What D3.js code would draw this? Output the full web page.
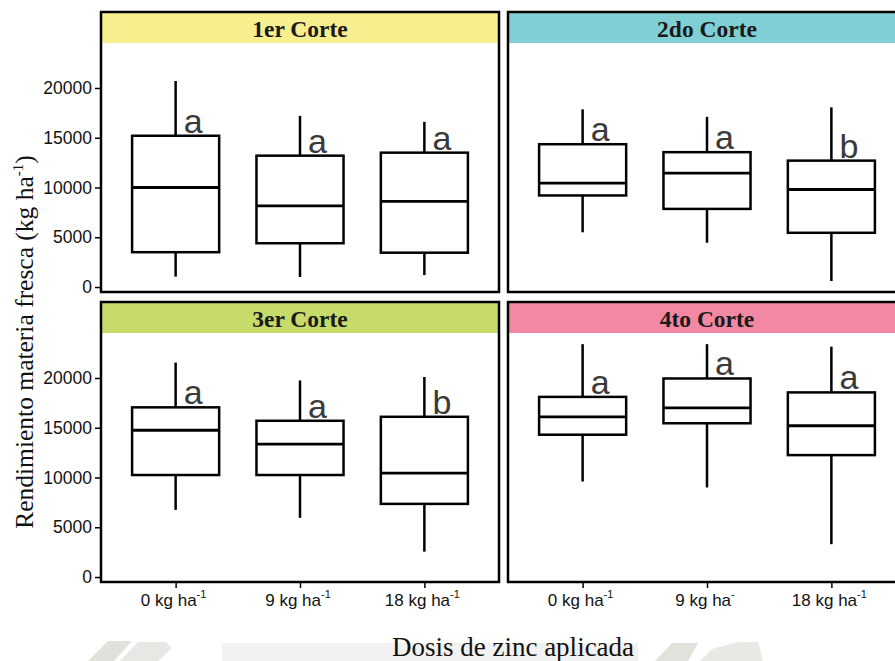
<!DOCTYPE html>
<html>
<head>
<meta charset="utf-8">
<script src="https://cdn.jsdelivr.net/npm/d3@7"></script>
<style>
  html, body { margin: 0; padding: 0; background: #ffffff; }
  svg { display: block; }
</style>
</head>
<body>
<svg id="chart" width="895" height="661"></svg>
<script>
// ---------------- DATA ----------------
const categories = ["0 kg ha", "9 kg ha", "18 kg ha"];
const panels = ["1er Corte", "2do Corte", "3er Corte", "4to Corte"];
const stripColors = ["#F7EF8E", "#7FCFD5", "#C6DB6A", "#F288A3"];
const yTicks = [0, 5000, 10000, 15000, 20000];
// x tick superscripts per column (left, right)
const tickSupLeft = ["-1", "-1", "-1"];
const tickSupRight = ["-1", "-", "-1"];

// box stats per panel: [lowWhisker, Q1, median, Q3, highWhisker]
const corte1 = [[1050, 3500, 10000, 15200, 20700], [1000, 4400, 8150, 13200, 17200], [1200, 3450, 8600, 13500, 16600]];
const corte2 = [[5500, 9200, 10450, 14350, 17850], [4450, 7850, 11450, 13550, 17100], [600, 5450, 9800, 12700, 18050]];
const corte3 = [[6750, 10250, 14750, 17050, 21550], [5950, 10250, 13350, 15700, 19750], [2550, 7350, 10450, 16100, 20100]];
const corte4 = [[9600, 14300, 16100, 18100, 23400], [9000, 15450, 17000, 19950, 23400], [3300, 12250, 15200, 18550, 23150]];
const letters1 = ["a", "a", "a"];
const letters2 = ["a", "a", "b"];
const letters3 = ["a", "a", "b"];
const letters4 = ["a", "a", "a"];

const stats = [corte1, corte2, corte3, corte4];
const letters = [letters1, letters2, letters3, letters4];

// ---------------- LAYOUT ----------------
const svg = d3.select("#chart");
const panelW = 398;
const colX = [101, 508];
const rowY = [12, 302];
const stripH = 31;
const panelH = 280;

// watermark (faint background shapes at bottom)
const wm = svg.append("g");
wm.append("rect").attr("x", 222).attr("y", 643).attr("width", 416).attr("height", 18).attr("fill", "#f2f2f2");
wm.append("path").attr("d", "M88,661 L108,641 L132,641 L114,661 Z").attr("fill", "#dfe1db");
wm.append("path").attr("d", "M120,661 L138,642 L166,642 L172,648 L158,661 Z").attr("fill", "#e6e8e3");
wm.append("path").attr("d", "M655,661 L672,643 L698,643 L688,661 Z").attr("fill", "#e0e3dc");
wm.append("path").attr("d", "M700,661 L712,649 L738,642 L758,642 L763,661 Z").attr("fill", "#e7e9e4");

const yDomain = [-500, 24520];

panels.forEach((name, i) => {
  const col = i % 2, row = Math.floor(i / 2);
  const x0 = colX[col], y0 = rowY[row];
  const g = svg.append("g");

  const x = d3.scalePoint().domain(categories).range([x0, x0 + panelW]).padding(0.6);
  const y = d3.scaleLinear().domain(yDomain).range([y0 + panelH, y0 + stripH]);
  const step = x.step();
  const bw = step * 0.7;

  // strip
  g.append("rect").attr("x", x0).attr("y", y0).attr("width", panelW).attr("height", stripH)
    .attr("fill", stripColors[i]);
  g.append("text").attr("x", x0 + panelW / 2).attr("y", y0 + 24.5)
    .attr("text-anchor", "middle")
    .attr("font-family", "Liberation Serif, Times New Roman, serif")
    .attr("font-weight", "bold").attr("font-size", 23.5).attr("fill", "#1a1a1a")
    .text(name);

  // boxes
  const data = stats[i].map((s, k) => ({cat: categories[k], s: s, lab: letters[i][k]}));
  const bx = g.selectAll("g.box").data(data).join("g").attr("class", "box");
  bx.append("line").attr("x1", d => x(d.cat)).attr("x2", d => x(d.cat))
    .attr("y1", d => y(d.s[3])).attr("y2", d => y(d.s[4]))
    .attr("stroke", "#000").attr("stroke-width", 2.5);
  bx.append("line").attr("x1", d => x(d.cat)).attr("x2", d => x(d.cat))
    .attr("y1", d => y(d.s[0])).attr("y2", d => y(d.s[1]))
    .attr("stroke", "#000").attr("stroke-width", 2.5);
  bx.append("rect").attr("x", d => x(d.cat) - bw / 2).attr("width", bw)
    .attr("y", d => y(d.s[3])).attr("height", d => y(d.s[1]) - y(d.s[3]))
    .attr("fill", "#fff").attr("stroke", "#000").attr("stroke-width", 2.5);
  bx.append("line").attr("x1", d => x(d.cat) - bw / 2).attr("x2", d => x(d.cat) + bw / 2)
    .attr("y1", d => y(d.s[2])).attr("y2", d => y(d.s[2]))
    .attr("stroke", "#000").attr("stroke-width", 2.8);
  bx.append("text").attr("x", d => x(d.cat) + 8).attr("y", d => y(d.s[3]) - 3)
    .attr("font-family", "Liberation Sans, Arial, sans-serif").attr("font-size", 34)
    .attr("fill", "#3a3a3a").text(d => d.lab);

  // panel border
  g.append("rect").attr("x", x0).attr("y", y0).attr("width", panelW).attr("height", panelH)
    .attr("fill", "none").attr("stroke", "#000").attr("stroke-width", 2.5);

  // y axis (left column only)
  if (col === 0) {
    const ya = d3.axisLeft(y).tickValues(yTicks).tickSize(5).tickPadding(3).tickFormat(d3.format("d"));
    const ag = g.append("g").attr("transform", `translate(${x0 - 1},0)`).call(ya);
    ag.select(".domain").remove();
    ag.selectAll(".tick line").attr("stroke", "#000").attr("stroke-width", 1.5);
    ag.selectAll(".tick text").attr("font-family", "Liberation Sans, Arial, sans-serif")
      .attr("font-size", 17.5).attr("fill", "#111");
  }

  // x axis (bottom row only)
  if (row === 1) {
    const sups = col === 0 ? tickSupLeft : tickSupRight;
    const xa = d3.axisBottom(x).tickSize(5).tickPadding(5).tickFormat("");
    const ag = g.append("g").attr("transform", `translate(0,${y0 + panelH + 1})`).call(xa);
    ag.select(".domain").remove();
    ag.selectAll(".tick line").attr("stroke", "#000").attr("stroke-width", 1.5);
    categories.forEach((c, k) => {
      const t = g.append("text").attr("x", x(c) - 2).attr("y", y0 + panelH + 24)
        .attr("text-anchor", "middle")
        .attr("font-family", "Liberation Sans, Arial, sans-serif").attr("font-size", 17).attr("fill", "#111");
      t.append("tspan").text(c);
      t.append("tspan").attr("dy", -8).attr("font-size", 11).text(sups[k]);
    });
  }
});

// axis titles
const yt = svg.append("text")
  .attr("transform", "translate(33,342) rotate(-90)")
  .attr("text-anchor", "middle")
  .attr("font-family", "Liberation Serif, Times New Roman, serif").attr("font-size", 25.5).attr("fill", "#111");
yt.append("tspan").text("Rendimiento materia fresca (kg ha");
yt.append("tspan").attr("dy", -10).attr("font-size", 15).text("-1");
yt.append("tspan").attr("dy", 10).text(")");

svg.append("text").attr("x", 513).attr("y", 656).attr("text-anchor", "middle")
  .attr("font-family", "Liberation Serif, Times New Roman, serif").attr("font-size", 27).attr("fill", "#111")
  .text("Dosis de zinc aplicada");
</script>
</body>
</html>
